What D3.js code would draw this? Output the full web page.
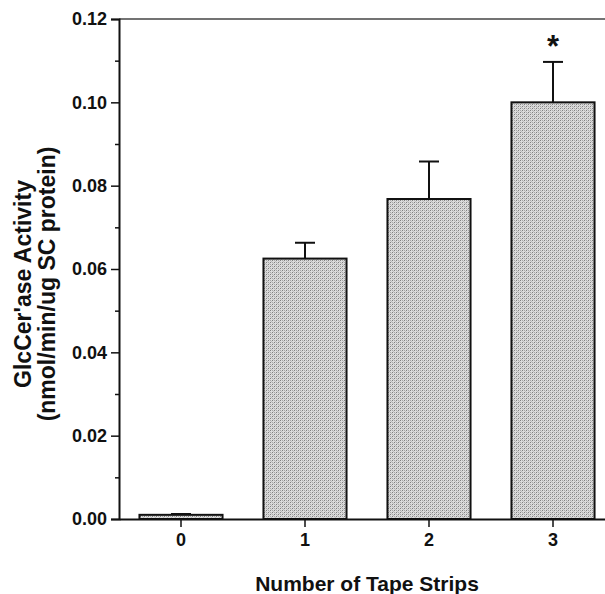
<!DOCTYPE html>
<html>
<head>
<meta charset="utf-8">
<script src="https://cdn.jsdelivr.net/npm/d3@7"></script>
<style>
	body { margin: 0; background: #fff; }
	svg text { font-family: "Liberation Sans", Arial, Helvetica, sans-serif; font-weight: bold; fill: #111; }
</style>
</head>
<body>
<svg id="chart" width="605" height="594"></svg>
<script>

// values
const strips = ["0", "1", "2", "3"];
const activity = [0.001, 0.0625, 0.0768, 0.1000];
const sem = [0.0002, 0.0038, 0.0090, 0.0097];
const significant = [false, false, false, true];
const y_ticks = [0, 0.02, 0.04, 0.06, 0.08, 0.10, 0.12];
const y_minor = [0.01, 0.03, 0.05, 0.07, 0.09, 0.11];

const svg = d3.select("#chart");
const plot_left = 119, plot_right = 615, plot_top = 19, plot_bottom = 519;

const x = d3.scaleBand()
	.domain(strips)
	.range([plot_left, plot_right])
	.paddingInner(0.33)
	.paddingOuter(0.165);

const y = d3.scaleLinear()
	.domain([0, 0.12])
	.range([plot_bottom, plot_top]);

// stipple fill for the bars
const defs = svg.append("defs");
const pat = defs.append("pattern")
	.attr("id", "stipple")
	.attr("patternUnits", "userSpaceOnUse")
	.attr("width", 4).attr("height", 4);
pat.append("rect").attr("width", 4).attr("height", 4).attr("fill", "#dcdcdc");
pat.append("rect").attr("x", 0).attr("y", 0).attr("width", 1).attr("height", 1).attr("fill", "#808080");
pat.append("rect").attr("x", 2).attr("y", 2).attr("width", 1).attr("height", 1).attr("fill", "#808080");
pat.append("rect").attr("x", 2).attr("y", 0).attr("width", 1).attr("height", 1).attr("fill", "#a8a8a8");
pat.append("rect").attr("x", 0).attr("y", 2).attr("width", 1).attr("height", 1).attr("fill", "#a8a8a8");
pat.append("rect").attr("x", 1).attr("y", 3).attr("width", 1).attr("height", 1).attr("fill", "#bcbcbc");
pat.append("rect").attr("x", 3).attr("y", 1).attr("width", 1).attr("height", 1).attr("fill", "#bcbcbc");

// top frame line
svg.append("line")
	.attr("x1", plot_left).attr("x2", plot_right)
	.attr("y1", plot_top).attr("y2", plot_top)
	.attr("stroke", "#444").attr("stroke-width", 1.5);

// bars
svg.append("g").selectAll("rect")
	.data(strips)
	.enter().append("rect")
	.attr("x", (d) => x(d))
	.attr("width", x.bandwidth())
	.attr("y", (d, i) => y(activity[i]))
	.attr("height", (d, i) => y(0) - y(activity[i]))
	.attr("fill", "url(#stipple)")
	.attr("stroke", "#111")
	.attr("stroke-width", 2);

// error bars (upper only)
const err = svg.append("g").attr("stroke", "#111").attr("stroke-width", 2);
strips.forEach((d, i) => {
	const cx = x(d) + x.bandwidth() / 2;
	err.append("line")
		.attr("x1", cx).attr("x2", cx)
		.attr("y1", y(activity[i])).attr("y2", y(activity[i] + sem[i]));
	err.append("line")
		.attr("x1", cx - 10).attr("x2", cx + 10)
		.attr("y1", y(activity[i] + sem[i])).attr("y2", y(activity[i] + sem[i]));
	if (significant[i]) {
		svg.append("text")
			.attr("x", cx)
			.attr("y", y(activity[i] + sem[i]) - 5)
			.attr("text-anchor", "middle")
			.style("font-size", "31px")
			.text("*");
	}
});

// y axis
const y_axis = d3.axisLeft(y)
	.tickValues(y_ticks)
	.tickSize(8)
	.tickPadding(4)
	.tickFormat(d3.format(".2f"));
const yg = svg.append("g")
	.attr("transform", "translate(" + plot_left + ",0)")
	.call(y_axis);
yg.select(".domain").attr("stroke", "#111").attr("stroke-width", 2);
yg.selectAll(".tick line").attr("stroke", "#111").attr("stroke-width", 1.5);
yg.selectAll(".tick text").style("font-size", "18px").attr("font-family", null);

svg.append("g")
	.attr("transform", "translate(" + plot_left + ",0)")
	.call(d3.axisLeft(y).tickValues(y_minor).tickSize(4).tickFormat(""))
	.call((g) => g.select(".domain").remove())
	.selectAll(".tick line").attr("stroke", "#111").attr("stroke-width", 1.5);

// x axis
const x_axis = d3.axisBottom(x)
	.tickSize(8)
	.tickPadding(6)
	.tickSizeOuter(0);
const xg = svg.append("g")
	.attr("transform", "translate(0," + plot_bottom + ")")
	.call(x_axis);
xg.select(".domain").attr("stroke", "#111").attr("stroke-width", 2);
xg.selectAll(".tick line").attr("stroke", "#111").attr("stroke-width", 1.5);
xg.selectAll(".tick text").style("font-size", "18px").attr("font-family", null);

// axis titles
svg.append("text")
	.attr("x", (plot_left + plot_right) / 2)
	.attr("y", 591)
	.attr("text-anchor", "middle")
	.style("font-size", "21px")
	.text("Number of Tape Strips");

const ytitle = svg.append("text")
	.attr("transform", "translate(31,284) rotate(-90)")
	.attr("text-anchor", "middle")
	.style("font-size", "23px");
ytitle.append("tspan").attr("x", 0).attr("y", 0).text("GlcCer'ase Activity");
ytitle.append("tspan").attr("x", 0).attr("y", 24).text("(nmol/min/ug SC protein)");

</script>
</body>
</html>
